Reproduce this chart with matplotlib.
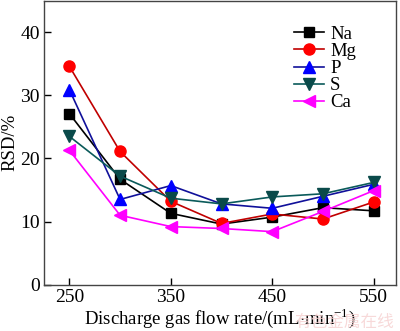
import matplotlib
matplotlib.use('Agg')
import matplotlib.pyplot as plt

plt.rcParams['font.family'] = ['Liberation Serif', 'DejaVu Serif']
plt.rcParams['mathtext.fontset'] = 'custom'
plt.rcParams['mathtext.rm'] = 'Liberation Serif'

# discharge gas flow rate, mL/min
flow = [250, 300, 350, 400, 450, 500, 550]

# RSD (%) for each element
na = [27.1, 16.7, 11.3, 9.6, 10.7, 12.2, 11.7]
mg = [34.6, 21.1, 13.2, 9.7, 11.2, 10.4, 13.1]
p = [30.9, 13.5, 15.7, 12.8, 12.1, 14.0, 15.9]
s = [23.5, 17.2, 13.7, 12.8, 13.9, 14.4, 16.2]
ca = [21.3, 11.0, 9.2, 8.9, 8.4, 11.6, 14.9]

labels = ['Na', 'Mg', 'P', 'S', 'Ca']
xticks = [250, 350, 450, 550]
yticks = [0, 10, 20, 30, 40]

fig = plt.figure(figsize=(4, 3.31), dpi=100)
ax = fig.add_axes([0.11, 0.14, 0.88, 0.858])

styles = [
    (na, 'black', 'black', 's', 7),
    (mg, '#c00000', '#ff0000', 'o', 8),
    (p, '#10109a', '#0000ff', '^', 8),
    (s, '#0a5a5a', '#0a4a4a', 'v', 8),
    (ca, '#ff00ff', '#ff00ff', '<', 8),
]
for (vals, lc, mc, mk, ms), lb in zip(styles, labels):
    ax.plot(flow, vals, color=lc, lw=1.2, marker=mk, ms=ms,
            mfc=mc, mec=mc, label=lb)

ax.set_xlim(225, 572)
ax.set_ylim(0, 45)
ax.set_xticks(xticks)
ax.set_yticks(yticks)
ax.tick_params(direction='in', length=5, width=1, labelsize=14, pad=3,
               top=False, right=False)
for sp in ax.spines.values():
    sp.set_linewidth(1)
    sp.set_color('#444444')

ax.set_xlabel('Discharge gas flow rate/(mL$\\cdot$min$^{-1}$)', fontsize=13.5, labelpad=0)
ax.set_ylabel('RSD/%', fontsize=13.5, labelpad=1)

ax.legend(loc='upper left', bbox_to_anchor=(0.672, 0.958), frameon=False,
          fontsize=13.5, handlelength=1.6, handletextpad=0.35,
          labelspacing=0.0, borderpad=0.2)

fig.text(0.985, 0.0, '有色金属在线', ha='right', va='bottom', fontsize=12,
         color='#f6d0d0', family=['Noto Sans CJK SC'], alpha=0.8)

fig.savefig('out.png', dpi=100)
